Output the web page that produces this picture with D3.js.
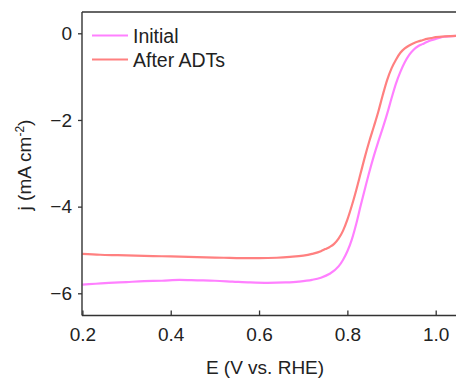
<!DOCTYPE html>
<html><head><meta charset="utf-8">
<script src="https://cdn.jsdelivr.net/npm/d3@7"></script>
<style>body{margin:0;background:#fff}svg{display:block}text{font-family:"Liberation Sans",Arial,sans-serif;fill:#222}</style>
</head><body><svg id="c" width="456" height="380"></svg>
<script>
const seriesNames = ["Initial", "After ADTs"];
const seriesColors = ["#ff80ff", "#ff8080"];
const initialE = [0.20,0.23,0.26,0.30,0.34,0.38,0.42,0.46,0.50,0.54,0.58,0.62,0.66,0.69,0.72,0.74,0.76,0.78,0.79,0.80,0.81,0.82,0.83,0.84,0.85,0.86,0.87,0.88,0.89,0.90,0.91,0.92,0.93,0.94,0.95,0.96,0.97,0.98,0.99,1.00,1.01,1.02,1.03,1.05,1.08];
const initialJ = [-5.80,-5.78,-5.76,-5.74,-5.72,-5.71,-5.69,-5.70,-5.71,-5.73,-5.75,-5.76,-5.75,-5.73,-5.69,-5.64,-5.55,-5.38,-5.23,-5.03,-4.76,-4.40,-3.98,-3.58,-3.19,-2.83,-2.50,-2.19,-1.86,-1.50,-1.16,-0.89,-0.67,-0.50,-0.38,-0.30,-0.25,-0.20,-0.16,-0.13,-0.10,-0.08,-0.07,-0.06,-0.06];
const afterE = [0.20,0.24,0.28,0.32,0.36,0.40,0.44,0.48,0.52,0.56,0.60,0.64,0.67,0.70,0.72,0.74,0.75,0.76,0.77,0.78,0.79,0.80,0.81,0.82,0.83,0.84,0.85,0.86,0.87,0.88,0.89,0.90,0.91,0.92,0.93,0.94,0.95,0.96,0.97,0.98,0.99,1.00,1.02,1.05,1.08];
const afterJ = [-5.09,-5.11,-5.12,-5.13,-5.14,-5.15,-5.16,-5.17,-5.18,-5.19,-5.19,-5.18,-5.16,-5.13,-5.09,-5.03,-4.98,-4.93,-4.86,-4.74,-4.56,-4.30,-3.98,-3.62,-3.23,-2.84,-2.48,-2.15,-1.81,-1.43,-1.08,-0.81,-0.61,-0.45,-0.35,-0.28,-0.23,-0.19,-0.16,-0.13,-0.11,-0.09,-0.07,-0.06,-0.06];
const xTicks = [0.2, 0.4, 0.6, 0.8, 1.0];
const yTicks = [0, -2, -4, -6];

(function(){
const svg = d3.select("#c");
const pL = 82, pT = 12, pB = 315.5, pR = 456;
const x = d3.scaleLinear().domain([0.2, 1.0]).range([82.4, 435.7]);
const y = d3.scaleLinear().domain([0, -6]).range([33.3, 293.3]);

svg.append("clipPath").attr("id","clip").append("rect")
  .attr("x", pL).attr("y", pT).attr("width", pR-pL).attr("height", pB-pT);

const data = [initialE.map((e,i)=>[e, initialJ[i]]), afterE.map((e,i)=>[e, afterJ[i]])];
const line = d3.line().x(d=>x(d[0])).y(d=>y(d[1])).curve(d3.curveMonotoneX);
const g = svg.append("g").attr("clip-path","url(#clip)");
data.forEach((d,i)=>{
  g.append("path").datum(d).attr("d", line).attr("fill","none")
    .attr("stroke", seriesColors[i]).attr("stroke-width", 2.2);
});

svg.append("line").attr("x1", pL).attr("x2", pR).attr("y1", pT).attr("y2", pT)
  .attr("stroke","#333").attr("stroke-width",1.4);

const xAxis = svg.append("g").attr("transform", `translate(0,${pB})`)
  .call(d3.axisBottom(x).tickValues(xTicks).tickFormat(d3.format(".1f")).tickSizeInner(-5).tickSizeOuter(0).tickPadding(12));
xAxis.select(".domain").attr("d", `M${pL},0H${pR}`);
const yAxis = svg.append("g").attr("transform", `translate(${pL},0)`)
  .call(d3.axisLeft(y).tickValues(yTicks).tickFormat(d3.format("d")).tickSizeInner(4).tickSizeOuter(0).tickPadding(6));
yAxis.select(".domain").attr("d", `M0,${pT}V${pB}`);
[xAxis, yAxis].forEach(a=>{
  a.selectAll(".domain").attr("stroke","#333").attr("stroke-width",1.4);
  a.selectAll(".tick line").attr("stroke","#333").attr("stroke-width",1.3);
  a.selectAll(".tick text").attr("font-size", 19).attr("font-family","Liberation Sans, Arial, sans-serif").attr("fill","#222");
});

svg.append("text").attr("x", 265).attr("y", 374).attr("text-anchor","middle").attr("font-size",19)
  .text("E (V vs. RHE)");
const yt = svg.append("text").attr("transform","translate(31,165) rotate(-90)").attr("text-anchor","middle").attr("font-size",19);
yt.append("tspan").text("j (mA cm");
yt.append("tspan").attr("dy",-7).attr("font-size",12).text("-2");
yt.append("tspan").attr("dy",7).text(")");

const legY = [35.5, 59.5];
seriesNames.forEach((n,i)=>{
  svg.append("line").attr("x1",92).attr("x2",128).attr("y1",legY[i]).attr("y2",legY[i])
    .attr("stroke",seriesColors[i]).attr("stroke-width",2.2);
  svg.append("text").attr("x",133).attr("y",legY[i]+7).attr("font-size",19.5).text(n);
});
})();
</script></body></html>
